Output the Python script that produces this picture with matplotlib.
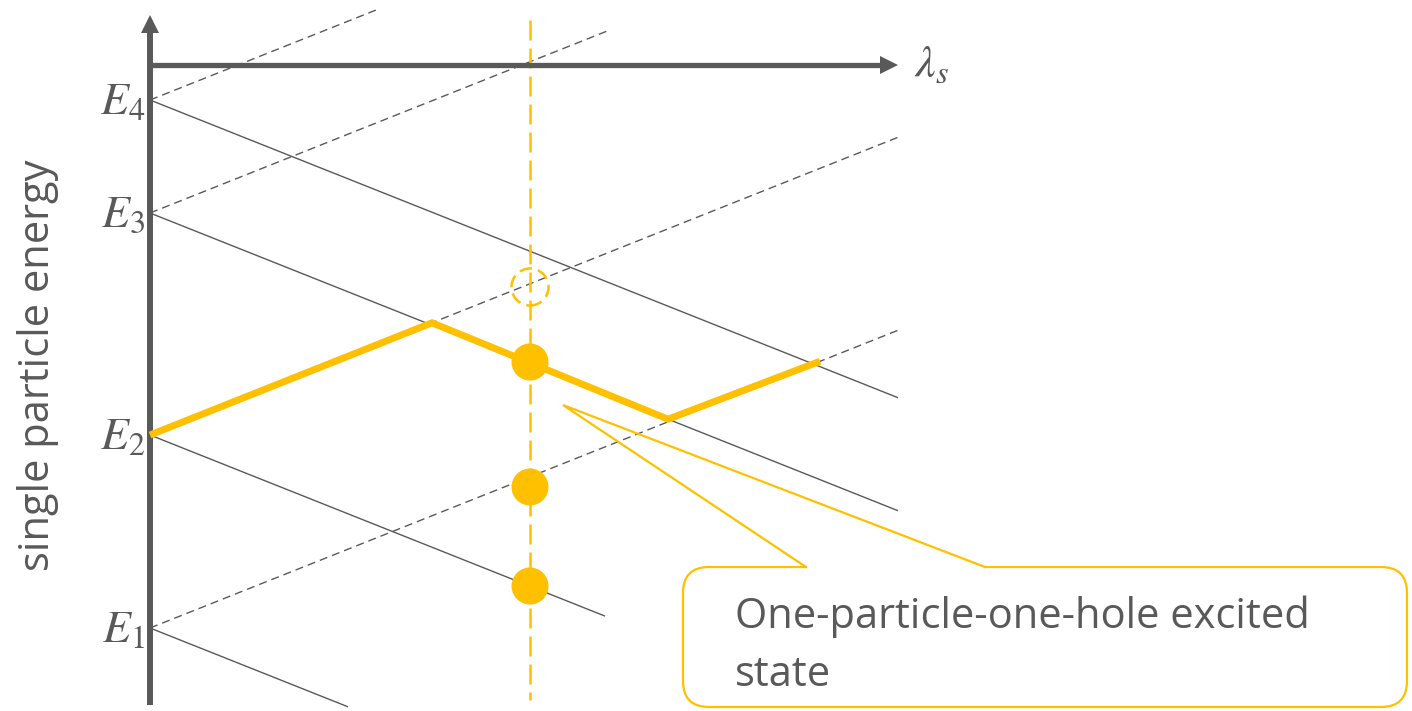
import matplotlib
matplotlib.use('Agg')
import matplotlib.pyplot as plt
from matplotlib.patches import FancyBboxPatch, Circle, Polygon

plt.rcParams['mathtext.fontset'] = 'stix'
plt.rcParams['font.family'] = ['Open Sans', 'DejaVu Sans']

GRAY = '#595959'
YEL = '#FFC000'

# ---- data (lambda_s along x, energy along y; arbitrary diagram units) ----
level_names = ['$E_1$', '$E_2$', '$E_3$', '$E_4$']
levels = [83, 276, 498, 611]
slope = 0.398
down_end = [198, 455, 748, 748]     # end of the falling (solid) orbitals
up_end = [748, 748, 458, 228]       # end of the rising (dashed) orbitals

path_lam = [0, 282, 518, 670]       # 1p-1h excited state trajectory
path_E = [276, 388.2, 291.8, 349.7]

probe_lam = 380                      # the vertical cut at fixed lambda_s
occupied_E = [125, 224, 349]
hole_E = 424

xaxis_E = 646
xaxis_end = 748
yaxis_top = 696
yaxis_bottom = 6

callout_lines = ['One-particle-one-hole excited', 'state']

# ---- figure ----
fig = plt.figure(figsize=(14.12, 7.11), dpi=100)
ax = fig.add_axes([0, 0, 1, 1])
ax.set_xlim(-150, 1262)
ax.set_ylim(0, 711)
ax.axis('off')

# orbitals
for E, xd, xu in zip(levels, down_end, up_end):
    ax.plot([0, xd], [E, E - slope * xd], color=GRAY, lw=1.0, zorder=2,
            solid_capstyle='butt')
    ax.plot([0, xu], [E, E + slope * xu], color=GRAY, lw=1.0, zorder=2,
            linestyle=(0, (5.8, 3.6)))

# axes with arrows
ax.plot([0, 0], [yaxis_bottom, yaxis_top - 14], color=GRAY, lw=4.3,
        solid_capstyle='butt', zorder=4)
ax.add_patch(Polygon([[-9, yaxis_top - 18], [9, yaxis_top - 18], [0, yaxis_top]],
                     closed=True, color=GRAY, lw=0, zorder=4))
ax.plot([-2, xaxis_end - 14], [xaxis_E, xaxis_E], color=GRAY, lw=3.8,
        solid_capstyle='butt', zorder=4)
ax.add_patch(Polygon([[xaxis_end - 18, xaxis_E + 9], [xaxis_end - 18, xaxis_E - 9],
                      [xaxis_end, xaxis_E]], closed=True, color=GRAY, lw=0, zorder=4))

# level labels
for name, E in zip(level_names, levels):
    ax.text(-5, E - 14, name, ha='right', va='baseline', fontsize=33,
            color=GRAY, zorder=5)
ax.text(xaxis_end + 16, xaxis_E - 12, r'$\lambda_s$', ha='left', va='baseline',
        fontsize=33, color=GRAY)

ax.text(-112, 346, 'single particle energy', rotation=90, ha='center',
        va='center', fontsize=30, color=GRAY)

# vertical probe line
ax.plot([probe_lam, probe_lam], [691, 11], color=YEL, lw=1.8,
        linestyle=(0, (8, 3.2)), zorder=3)

# excited-state trajectory
ax.plot(path_lam, path_E, color=YEL, lw=5, zorder=6, solid_joinstyle='miter',
        solid_capstyle='butt')

# occupied orbitals and hole
for E in occupied_E:
    ax.add_patch(Circle((probe_lam, E), 18.5, color=YEL, lw=0, zorder=7))
ax.add_patch(Circle((probe_lam, hole_E), 18.5, facecolor='none', edgecolor=YEL,
                    lw=1.8, linestyle=(0, (5, 2.5)), zorder=7))

# callout
box = FancyBboxPatch((533, 4), 724, 140, boxstyle='round,pad=0,rounding_size=26',
                     facecolor='white', edgecolor=YEL, lw=1.6, zorder=8)
ax.add_patch(box)
ax.plot([657, 834], [144, 144], color='white', lw=3, zorder=9,
        solid_capstyle='butt')
ax.plot([656, 413, 835], [144, 306, 144], color=YEL, lw=1.6, zorder=9,
        solid_joinstyle='miter')
for i, line in enumerate(callout_lines):
    ax.text(585, 83 - 58 * i, line, ha='left', va='baseline', fontsize=30,
            color=GRAY, zorder=10)

fig.savefig('out.png', dpi=100)
